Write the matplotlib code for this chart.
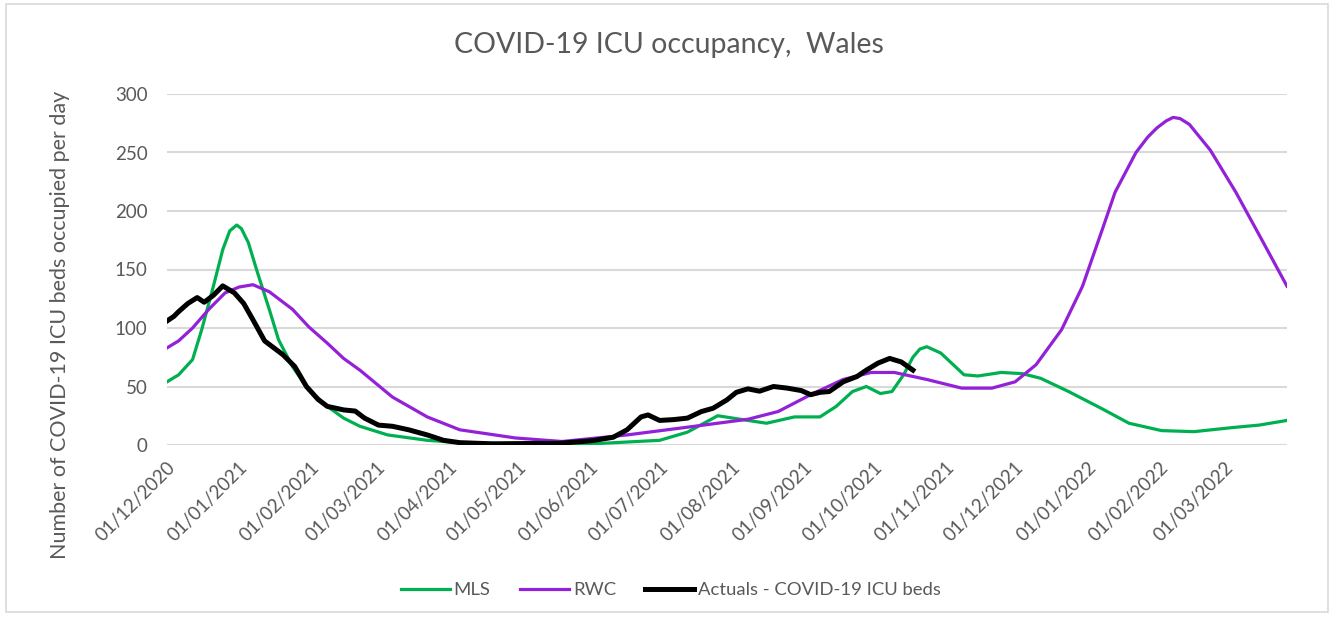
import matplotlib
matplotlib.use("Agg")
import matplotlib.pyplot as plt
import matplotlib.dates as mdates
from matplotlib.patches import Rectangle
import pandas as pd

plt.rcParams['font.family'] = ['Lato', 'DejaVu Sans']

# MLS model projection
mls_dates = ["2020-12-01", "2020-12-06", "2020-12-12", "2020-12-16", "2020-12-21", "2020-12-25",
             "2020-12-28", "2020-12-31", "2021-01-02", "2021-01-05", "2021-01-09", "2021-01-14",
             "2021-01-18", "2021-01-24", "2021-01-31", "2021-02-08", "2021-02-15", "2021-02-22",
             "2021-03-06", "2021-03-23", "2021-04-06", "2021-04-30", "2021-06-02", "2021-07-01",
             "2021-07-13", "2021-07-26", "2021-08-08", "2021-08-16", "2021-08-28", "2021-09-08",
             "2021-09-15", "2021-09-22", "2021-09-28", "2021-10-04", "2021-10-09", "2021-10-14",
             "2021-10-18", "2021-10-21", "2021-10-24", "2021-10-30", "2021-11-09", "2021-11-15",
             "2021-11-25", "2021-12-04", "2021-12-12", "2021-12-24", "2022-01-07", "2022-01-19",
             "2022-02-02", "2022-02-16", "2022-03-05", "2022-03-16", "2022-03-28"]
mls = [54, 60, 73, 99, 136, 167,
       183, 188, 185, 173, 147, 116,
       90, 67, 47, 33, 23, 16,
       8.6, 4, 2, 1, 1, 4,
       11, 25, 21, 18.6, 24, 24,
       33, 45.7, 50, 44, 45.7, 60,
       75, 82, 84, 78.6, 60, 59,
       62, 61, 57, 45.7, 31.4, 18.6,
       12.3, 11.4, 15, 17, 21]

# RWC model projection
rwc_dates = ["2020-12-01", "2020-12-06", "2020-12-12", "2020-12-19", "2020-12-26", "2021-01-01",
             "2021-01-07", "2021-01-14", "2021-01-24", "2021-01-31", "2021-02-08", "2021-02-15",
             "2021-02-22", "2021-03-08", "2021-03-23", "2021-04-06", "2021-04-30", "2021-05-20",
             "2021-06-17", "2021-07-16", "2021-08-08", "2021-08-21", "2021-09-04", "2021-09-18",
             "2021-09-30", "2021-10-10", "2021-10-24", "2021-11-08", "2021-11-21", "2021-12-01",
             "2021-12-10", "2021-12-21", "2021-12-30", "2022-01-08", "2022-01-13", "2022-01-22",
             "2022-01-27", "2022-01-31", "2022-02-04", "2022-02-07", "2022-02-10", "2022-02-14",
             "2022-02-23", "2022-03-06", "2022-03-17", "2022-03-28"]
rwc = [83, 89, 100, 116, 130, 135,
       137, 131, 116, 101, 87, 74,
       64, 41, 24, 13, 6, 3,
       8.6, 16, 22, 28.6, 43, 56,
       62, 62, 56, 48.6, 48.6, 54,
       68.6, 98.6, 135.7, 187, 216, 250,
       263, 271, 277, 280, 279, 274,
       252, 216, 176, 135.7]

# actual COVID-19 ICU beds occupied
act_dates = ["2020-12-01", "2020-12-04", "2020-12-06", "2020-12-10", "2020-12-14", "2020-12-17",
             "2020-12-21", "2020-12-25", "2020-12-30", "2021-01-03", "2021-01-07", "2021-01-12",
             "2021-01-16", "2021-01-20", "2021-01-25", "2021-01-30", "2021-02-04", "2021-02-08",
             "2021-02-15", "2021-02-20", "2021-02-24", "2021-03-02", "2021-03-08", "2021-03-15",
             "2021-03-23", "2021-03-30", "2021-04-06", "2021-04-20", "2021-05-19", "2021-06-02",
             "2021-06-11", "2021-06-17", "2021-06-23", "2021-06-26", "2021-07-01", "2021-07-07",
             "2021-07-13", "2021-07-19", "2021-07-24", "2021-07-30", "2021-08-03", "2021-08-08",
             "2021-08-13", "2021-08-19", "2021-08-25", "2021-08-31", "2021-09-04", "2021-09-08",
             "2021-09-12", "2021-09-18", "2021-09-24", "2021-09-28", "2021-10-03", "2021-10-08",
             "2021-10-13", "2021-10-18"]
actuals = [106, 110, 114, 121, 126, 122,
           128, 136, 130, 121, 107, 89,
           83, 77, 67, 50, 39, 33,
           30, 29, 23, 17, 16, 13,
           8.6, 4, 2, 1, 1.5, 3.7,
           6.6, 13, 24, 25.7, 21, 21.7,
           23, 28.6, 31.4, 38.6, 45, 48,
           46, 50, 48.6, 46.5, 43, 45,
           45.7, 54, 58.6, 64, 70, 74,
           71, 64]

grey = '#595959'

fig = plt.figure(figsize=(13.38, 6.2), dpi=100)
ax = fig.add_axes([167/1338, 1 - 445/620, 1120/1338, 351/620])

ax.plot(pd.to_datetime(mls_dates), mls, color='#00B050', lw=2.3, label='MLS',
        solid_joinstyle='round')
ax.plot(pd.to_datetime(rwc_dates), rwc, color='#9321D8', lw=2.3, label='RWC',
        solid_joinstyle='round')
ax.plot(pd.to_datetime(act_dates), actuals, color='black', lw=3.6,
        label='Actuals - COVID-19 ICU beds', solid_joinstyle='round')

ax.set_ylim(0, 300)
ax.set_yticks(range(0, 301, 50))
ax.set_xlim(pd.Timestamp('2020-12-01'), pd.Timestamp('2022-03-28'))
ax.xaxis.set_major_locator(mdates.MonthLocator(bymonthday=1))
ax.xaxis.set_major_formatter(mdates.DateFormatter('%d/%m/%Y'))

ax.grid(axis='y', color='#d9d9d9', lw=1.5)
ax.set_axisbelow(True)
for s in ax.spines.values():
    s.set_visible(False)
ax.tick_params(axis='both', length=0, colors=grey, labelsize=13.5)
ax.tick_params(axis='y', pad=14)
ax.tick_params(axis='x', pad=10)
for lab in ax.get_xticklabels():
    lab.set_rotation(45)
    lab.set_ha('right')
    lab.set_rotation_mode('anchor')

fig.text(60/1338, 1 - 325/620, 'Number of COVID-19 ICU beds occupied per day',
         rotation=90, ha='center', va='center', fontsize=15.5, color=grey)
fig.text(669/1338, 1 - 45/620, 'COVID-19 ICU occupancy,  Wales',
         ha='center', va='center', fontsize=20.5, color=grey)

leg = fig.legend(loc='center', bbox_to_anchor=(671/1338, 1 - 590/620), ncol=3,
                 frameon=False, fontsize=13.3, handlelength=2.65, handletextpad=0.2,
                 columnspacing=1.6)
for t in leg.get_texts():
    t.set_color(grey)

fig.patches.append(Rectangle((6/1338, 8/620), 1322/1338, 608/620, transform=fig.transFigure,
                             fill=False, edgecolor='#d9d9d9', lw=1.2))

fig.savefig('out.png', dpi=100)
